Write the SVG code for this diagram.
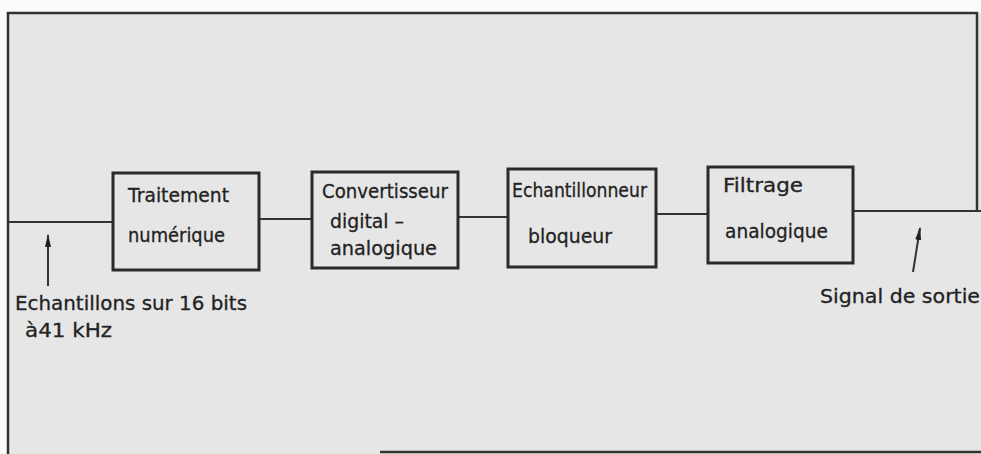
<svg xmlns="http://www.w3.org/2000/svg" width="981" height="454" viewBox="0 0 981 454">
<defs>
<style>
.box{fill:none;stroke:#2a2a2a;stroke-width:3}
.ln{fill:none;stroke:#333;stroke-width:2}
.frame{fill:none;stroke:#333;stroke-width:2.5}
text{font-family:"DejaVu Sans","Liberation Sans",sans-serif;font-size:20px;fill:#222;stroke:#222;stroke-width:0.3}
</style>
<marker id="ah" markerWidth="14" markerHeight="10" refX="12" refY="4" orient="auto" markerUnits="userSpaceOnUse">
<path d="M0,1 L13,4 L0,7 Z" fill="#222"/>
</marker>
</defs>
<rect x="0" y="0" width="981" height="454" fill="#fbfbfb"/>
<rect x="8" y="13" width="973" height="441" fill="#e6e6e6"/>
<g id="frame">
<path class="frame" d="M8,454 V13 H977 V211"/>
<path class="frame" d="M380,452 H981"/>
</g>
<g id="connectors">
<path class="ln" d="M8,222 H113"/>
<path class="ln" d="M259,219 H312"/>
<path class="ln" d="M458,217 H508"/>
<path class="ln" d="M656,214 H708"/>
<path class="ln" d="M853,211 H981"/>
<path class="ln" d="M48,286 V235" marker-end="url(#ah)"/>
<path class="ln" d="M913,272 L920,228" marker-end="url(#ah)"/>
</g>
<g id="traitement">
<rect class="box" x="113" y="173" width="146" height="97"/>
<text x="128" y="202" textLength="101" lengthAdjust="spacingAndGlyphs">Traitement</text>
<text x="128" y="242" textLength="97" lengthAdjust="spacingAndGlyphs">numérique</text>
</g>
<g id="convertisseur">
<rect class="box" x="312" y="172" width="146" height="96"/>
<text x="322" y="198" textLength="126" lengthAdjust="spacingAndGlyphs">Convertisseur</text>
<text x="330" y="228" textLength="74" lengthAdjust="spacingAndGlyphs">digital –</text>
<text x="330" y="255" textLength="107" lengthAdjust="spacingAndGlyphs">analogique</text>
</g>
<g id="echantillonneur">
<rect class="box" x="508" y="169" width="148" height="98"/>
<text x="512" y="197" textLength="135" lengthAdjust="spacingAndGlyphs">Echantillonneur</text>
<text x="528" y="243" textLength="84" lengthAdjust="spacingAndGlyphs">bloqueur</text>
</g>
<g id="filtrage">
<rect class="box" x="708" y="167" width="145" height="96"/>
<text x="723" y="192" textLength="80" lengthAdjust="spacingAndGlyphs">Filtrage</text>
<text x="725" y="238" textLength="103" lengthAdjust="spacingAndGlyphs">analogique</text>
</g>
<g id="entree">
<text x="15" y="310" textLength="232" lengthAdjust="spacingAndGlyphs">Echantillons sur 16 bits</text>
<text x="25" y="337" textLength="87" lengthAdjust="spacingAndGlyphs">à41 kHz</text>
</g>
<g id="sortie">
<text x="820" y="303" textLength="160" lengthAdjust="spacingAndGlyphs">Signal de sortie</text>
</g>
</svg>
